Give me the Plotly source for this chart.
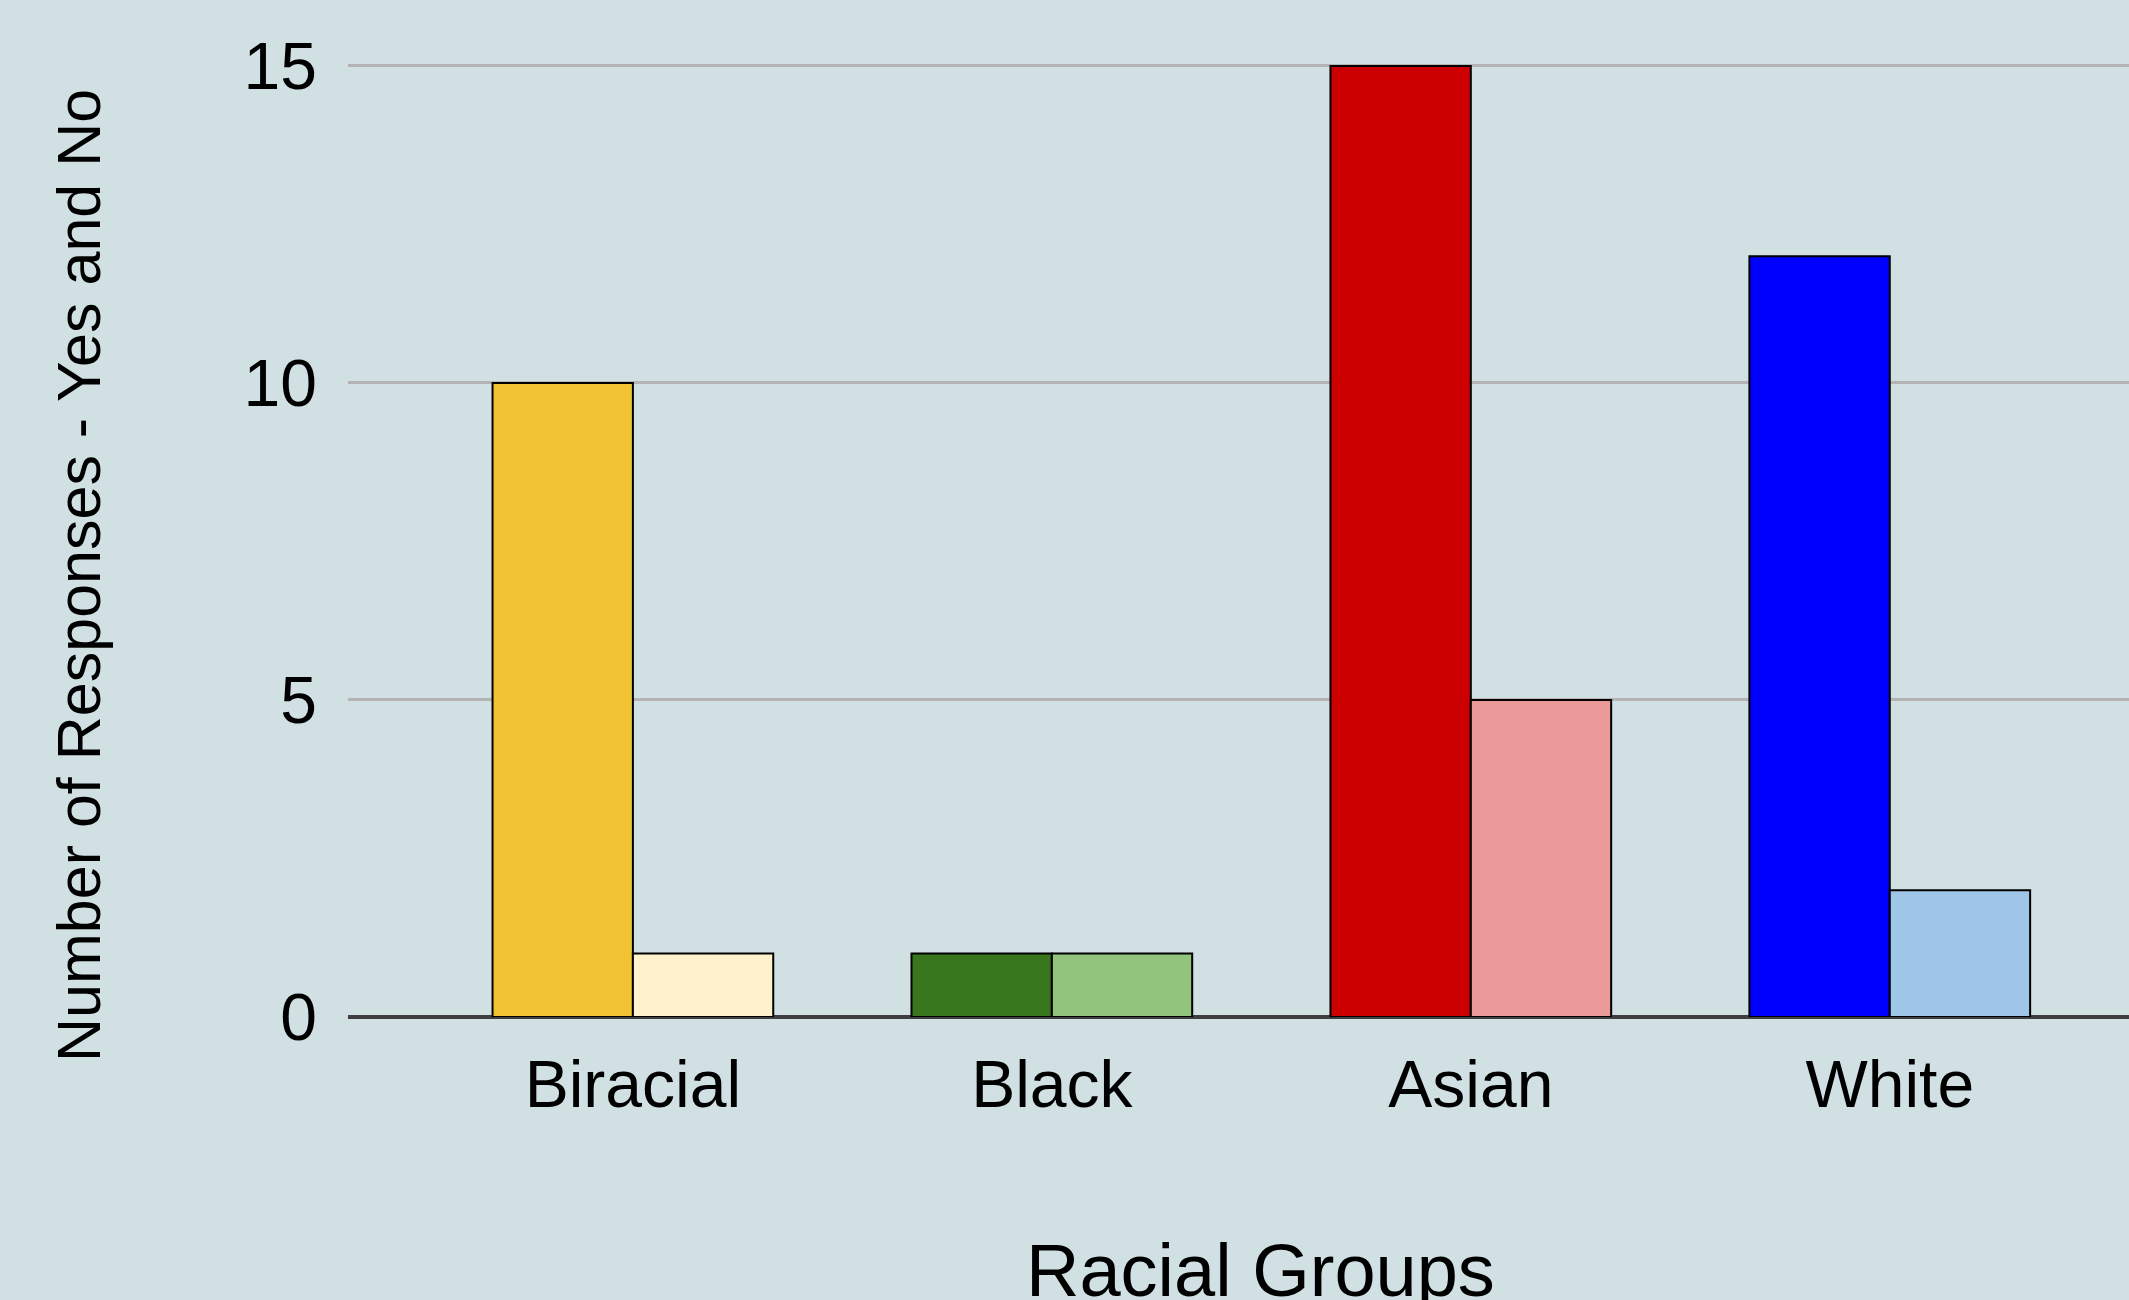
import plotly.graph_objects as go

categories = ["Biracial", "Black", "Asian", "White"]
yes_values = [10, 1, 15, 12]
no_values = [1, 1, 5, 2]
yes_colors = ["#F1C232", "#38761D", "#CC0000", "#0000FF"]
no_colors = ["#FFF2CC", "#93C47D", "#EA9999", "#9FC5E8"]
y_ticks = [0, 5, 10, 15]

FONT = "Liberation Sans, Arial, sans-serif"
BG = "#D0E0E3"

fig = go.Figure()
fig.add_trace(go.Bar(
    x=categories, y=yes_values, name="Yes",
    marker=dict(color=yes_colors, line=dict(color="#000000", width=2)),
))
fig.add_trace(go.Bar(
    x=categories, y=no_values, name="No",
    marker=dict(color=no_colors, line=dict(color="#000000", width=2)),
))

fig.update_layout(
    width=2129, height=1300,
    paper_bgcolor=BG, plot_bgcolor=BG,
    barmode="group", bargap=0.33, bargroupgap=0.0,
    showlegend=False,
    margin=dict(l=348, r=0, t=0, b=283, autoexpand=False),
    font=dict(family=FONT, color="#000000"),
    xaxis=dict(
        type="category", range=[-0.68, 3.571],
        showgrid=False, showline=False, zeroline=False,
        ticks="", tickfont=dict(size=66, family=FONT, color="#000000"),
        ticklabelstandoff=23,
        automargin=False,
    ),
    yaxis=dict(
        range=[0, 16.04], tickvals=y_ticks, ticktext=[str(v) for v in y_ticks],
        showgrid=True, gridcolor="#b4b4b4", gridwidth=3,
        zeroline=True, zerolinecolor="#3f3f3f", zerolinewidth=4,
        showline=False, ticks="",
        tickfont=dict(size=66, family=FONT, color="#000000"),
        ticklabelstandoff=30,
        automargin=False,
    ),
    annotations=[
        dict(text="Number of Responses - Yes and No", xref="paper", yref="paper",
             x=-(348 - 79) / (2129 - 348), y=(1017 - 576) / 1017,
             xanchor="center", yanchor="middle", textangle=-90, showarrow=False,
             font=dict(size=61, family=FONT, color="#000000")),
        dict(text="Racial Groups", xref="paper", yref="paper",
             x=(1260 - 348) / (2129 - 348), y=-(1270 - 1017) / 1017,
             xanchor="center", yanchor="middle", showarrow=False,
             font=dict(size=74, family=FONT, color="#000000")),
    ],
)

fig.write_html("out.html")
